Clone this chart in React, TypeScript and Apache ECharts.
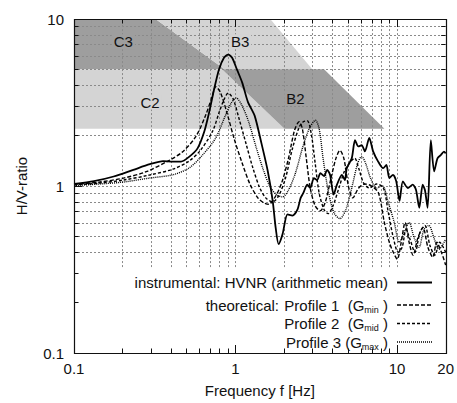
import React, { useEffect, useRef } from "react";
import * as echarts from "echarts";

const FONT = "'Liberation Sans', Arial, Helvetica, sans-serif";

// ---------- axes ----------
const F_MIN = 0.1;
const F_MAX = 20;
const HV_MIN = 0.1;
const HV_MAX = 10;
const xLabelValues = [0.1, 1, 10, 20];
const yLabelValues = [0.1, 1, 10];
const xMinorTicks = [0.2, 0.3, 0.4, 0.5, 0.6, 0.7, 0.8, 0.9, 2, 3, 4, 5, 6, 7, 8, 9];
const xMajorTicks = [1, 10];
const yMinorTicks = [0.2, 0.3, 0.4, 0.5, 0.6, 0.7, 0.8, 0.9, 2, 3, 4, 5, 6, 7, 8, 9];
const yMajorTicks = [1];
const vGridValues = [0.2, 0.3, 0.4, 0.5, 0.6, 0.7, 0.8, 0.9, 1, 2, 3, 4, 5, 6, 7, 8, 9, 10];
const hGridValues = [0.4, 0.5, 0.6, 0.7, 0.8, 0.9, 1, 2, 3, 4, 5, 6, 7, 8, 9];
const GRID_FLOOR_HV = 0.327; // vertical grid lines stop above the key box

// ---------- shaded classes ----------
const upperBandHV = [5, 10];
const lowerBandHV = [2.2, 5];
const c3EdgeFreq = [0.855, 0.32]; // at HV 5, 10
const b3EdgeFreq = [2.985, 1.64];
const c2EdgeFreq = [2.01, 0.825]; // at HV 2.2, 5
const b2EdgeFreq = [8.35, 3.535];
const bandLabels = ["C3", "B3", "C2", "B2"];
const bandLabelFreq = [0.202, 1.067, 0.296, 2.35];
const bandLabelHV = [7.31, 7.31, 3.18, 3.36];
const DARK = "#9e9e9e";
const LIGHT = "#d4d4d4";
const bandColors = [DARK, LIGHT, LIGHT, DARK];

// ---------- curves ----------
const hvnrFreq = [0.1, 0.133, 0.176, 0.233, 0.295, 0.356, 0.409, 0.46, 0.518, 0.582, 0.64, 0.687, 0.737, 0.79, 0.848, 0.901, 0.953, 1.02, 1.1, 1.194, 1.313, 1.44, 1.583, 1.699, 1.772, 1.848, 1.956, 2.098, 2.252, 2.416, 2.531, 2.63, 2.782, 2.902, 3.057, 3.203, 3.355, 3.535, 3.688, 3.847, 4.053, 4.246, 4.555, 4.752, 4.887, 5.244, 5.494, 5.763, 6.037, 6.325, 6.73, 7.121, 7.64, 8.199, 8.59, 8.961, 9.44, 9.888, 10.36, 10.87, 11.66, 12.51, 13.11, 13.73, 14.41, 14.88, 15.46, 16.19, 16.97, 17.8, 18.65, 19.53, 20];
const hvnrAmp = [1.03, 1.07, 1.14, 1.25, 1.35, 1.41, 1.4, 1.4, 1.5, 1.68, 2.11, 2.77, 3.8, 4.99, 5.86, 6.12, 5.86, 4.99, 4.16, 3.18, 2.64, 1.84, 1.23, 0.815, 0.564, 0.449, 0.515, 0.676, 0.665, 0.721, 0.849, 0.909, 1.018, 0.973, 1.115, 1.085, 1.194, 1.146, 1.249, 1.167, 0.888, 1.018, 1.167, 1.085, 1.278, 1.464, 1.879, 1.725, 1.755, 1.611, 1.942, 1.605, 1.4, 1.278, 1.336, 1.115, 1.167, 1.066, 0.815, 1.066, 0.973, 1.018, 0.947, 0.741, 1.018, 0.947, 0.741, 1.879, 1.222, 1.464, 1.531, 1.605, 1.568];

const profile1Freq = [0.1, 0.144, 0.202, 0.28, 0.392, 0.471, 0.566, 0.652, 0.719, 0.754, 0.805, 0.889, 0.98, 1.1, 1.228, 1.375, 1.496, 1.606, 1.747, 1.929, 2.128, 2.316, 2.475, 2.593, 2.743, 2.902, 3.113, 3.341, 3.585, 3.902, 4.186, 4.429, 4.685, 5.027, 5.318, 5.787, 6.298, 6.952, 7.673, 8.35, 8.961, 9.479, 10.03, 10.61, 11.22, 11.88, 12.57, 13.48, 14.47, 15.52, 16.66, 17.62, 18.91, 20];
const profile1Amp = [1.021, 1.056, 1.115, 1.218, 1.431, 1.605, 1.968, 2.642, 3.47, 3.93, 3.65, 2.7, 1.923, 1.368, 1.028, 0.849, 0.793, 0.777, 0.849, 1.042, 1.464, 2.145, 2.425, 2.204, 1.464, 0.973, 0.761, 0.711, 0.793, 1.115, 1.464, 1.633, 1.464, 0.973, 0.849, 0.973, 1.028, 1.0, 0.909, 0.604, 0.46, 0.401, 0.365, 0.46, 0.604, 0.46, 0.385, 0.492, 0.564, 0.43, 0.375, 0.46, 0.396, 0.336];

const profile2Freq = [0.1, 0.144, 0.202, 0.292, 0.409, 0.513, 0.599, 0.719, 0.794, 0.852, 0.901, 0.967, 1.052, 1.161, 1.282, 1.414, 1.539, 1.699, 1.848, 2.04, 2.252, 2.485, 2.63, 2.782, 2.943, 3.113, 3.294, 3.535, 3.74, 4.013, 4.367, 4.752, 5.171, 5.471, 5.787, 6.21, 6.759, 7.46, 8.233, 8.835, 9.479, 10.17, 10.76, 11.38, 12.04, 12.92, 13.87, 14.88, 15.97, 17.13, 18.39, 20];
const profile2Amp = [1.014, 1.042, 1.085, 1.162, 1.261, 1.406, 1.611, 2.116, 2.78, 3.317, 3.599, 3.317, 2.526, 1.796, 1.278, 0.973, 0.849, 0.804, 0.873, 1.115, 1.678, 2.265, 2.425, 2.458, 2.059, 1.368, 0.909, 0.721, 0.683, 0.761, 0.973, 1.244, 1.406, 1.464, 1.278, 1.042, 0.973, 1.028, 0.973, 0.692, 0.492, 0.401, 0.43, 0.549, 0.479, 0.401, 0.527, 0.58, 0.442, 0.385, 0.46, 0.401];

const profile3Freq = [0.1, 0.144, 0.202, 0.292, 0.409, 0.513, 0.599, 0.75, 0.864, 0.94, 1.01, 1.1, 1.211, 1.337, 1.475, 1.628, 1.797, 1.956, 2.128, 2.349, 2.593, 2.861, 3.126, 3.294, 3.485, 3.74, 4.07, 4.429, 4.819, 5.244, 5.707, 6.037, 6.387, 6.855, 7.46, 8.119, 8.835, 9.614, 10.32, 11.07, 11.88, 12.74, 13.67, 14.68, 15.74, 16.89, 18.13, 20];
const profile3Amp = [1.007, 1.028, 1.056, 1.115, 1.167, 1.278, 1.464, 1.923, 2.631, 3.141, 3.363, 3.015, 2.392, 1.725, 1.278, 1.0, 0.885, 0.861, 0.947, 1.194, 1.678, 2.204, 2.475, 2.204, 1.464, 0.947, 0.692, 0.638, 0.721, 0.973, 1.368, 1.504, 1.368, 1.115, 0.973, 1.0, 0.793, 0.604, 0.46, 0.527, 0.604, 0.492, 0.43, 0.549, 0.58, 0.492, 0.418, 0.479];

// ---------- key ----------
const keyHeads = ["instrumental: HVNR (arithmetic mean)", "theoretical:"];
const profileNames = ["Profile 1  (G", "Profile 2  (G", "Profile 3 (G"];
const profileSubs = ["min", "mid", "max"];

const zip = (a: number[], b: number[]) => a.map((v, i) => [v, b[i]]);

const DASH1 = [4, 2];
const DASH2 = [3, 2];
const DASH3 = [1, 1];

export default function App() {
  const ref = useRef<HTMLDivElement>(null);

  useEffect(() => {
    if (!ref.current) return;
    const chart = echarts.init(ref.current, null, { renderer: "svg" });

    const up = upperBandHV;
    const lo = lowerBandHV;
    const bandPolys = [
      [[F_MIN, up[1]], [c3EdgeFreq[1], up[1]], [c3EdgeFreq[0], up[0]], [F_MIN, up[0]]],
      [[c3EdgeFreq[1], up[1]], [b3EdgeFreq[1], up[1]], [b3EdgeFreq[0], up[0]], [c3EdgeFreq[0], up[0]]],
      [[F_MIN, lo[1]], [c2EdgeFreq[1], lo[1]], [c2EdgeFreq[0], lo[0]], [F_MIN, lo[0]]],
      [[c2EdgeFreq[1], lo[1]], [b2EdgeFreq[1], lo[1]], [b2EdgeFreq[0], lo[0]], [c2EdgeFreq[0], lo[0]]],
    ];
    const bandData = bandLabels.map((_, i) => [bandLabelFreq[i], bandLabelHV[i], i]);

    const gridData = [
      ...vGridValues.map((v) => [v, 1, 0]),
      ...hGridValues.map((v) => [1, v, 1]),
    ];
    const tickData = [
      ...xMinorTicks.map((v) => [v, 1, 0, 0]),
      ...xMajorTicks.map((v) => [v, 1, 0, 1]),
      ...yMinorTicks.map((v) => [1, v, 1, 0]),
      ...yMajorTicks.map((v) => [1, v, 1, 1]),
      [1, 1, 2, 0],
    ];
    const snap = (v: number) => Math.round(v - 0.5) + 0.5;

    const fmt = (v: number) => String(Math.round(v * 1000) / 1000);
    const txt = (extra: any) => ({
      fontSize: 15,
      fontFamily: FONT,
      fill: "#111",
      ...extra,
    });

    const keyLineX1 = 397;
    const keyLineX2 = 432;
    const keyTextRight = 388;
    const rowY = [282.5, 305, 323.5, 342];
    const dashes = [null, DASH1, DASH2, DASH3];

    const graphic: any[] = [];
    graphic.push({
      type: "text",
      x: keyTextRight,
      y: rowY[0],
      z: 20,
      style: txt({ text: keyHeads[0], align: "right", verticalAlign: "middle", textAlign: "right", textVerticalAlign: "middle" }),
    });
    graphic.push({
      type: "text",
      x: 279,
      y: rowY[1],
      z: 20,
      style: txt({ text: keyHeads[1], align: "right", verticalAlign: "middle", textAlign: "right", textVerticalAlign: "middle" }),
    });
    profileNames.forEach((nm, i) => {
      graphic.push({
        type: "text",
        x: keyTextRight,
        y: rowY[i + 1],
        z: 20,
        style: txt({
          text: `{n|${nm}}{s|${profileSubs[i]}}{n| )}`,
          align: "right",
          verticalAlign: "middle",
          textAlign: "right",
          textVerticalAlign: "middle",
          rich: {
            n: { fontSize: 15, fontFamily: FONT, fill: "#111", lineHeight: 18, verticalAlign: "middle" },
            s: { fontSize: 9, fontFamily: FONT, fill: "#111", lineHeight: 12, verticalAlign: "bottom" },
          },
        }),
      });
    });
    rowY.forEach((y, i) => {
      graphic.push({
        type: "line",
        z: 20,
        shape: { x1: keyLineX1, y1: y, x2: keyLineX2, y2: y },
        style: {
          stroke: "#000",
          lineWidth: i === 0 ? 1.8 : 1.4,
          lineDash: dashes[i] || undefined,
        },
      });
    });

    const option: any = {
      animation: false,
      grid: { left: 74, top: 19, right: 7, bottom: 46, show: false },
      xAxis: {
        type: "log",
        logBase: 10,
        min: F_MIN,
        max: F_MAX,
        axisLine: { show: false },
        axisTick: { show: false },
        splitLine: { show: false },
        axisLabel: {
          customValues: xLabelValues,
          formatter: fmt,
          margin: 8,
          fontSize: 15,
          fontFamily: FONT,
          color: "#111",
          hideOverlap: false,
        },
        name: "Frequency f [Hz]",
        nameLocation: "middle",
        nameGap: 30,
        nameTextStyle: { fontSize: 15, fontFamily: FONT, color: "#111" },
      },
      yAxis: {
        type: "log",
        logBase: 10,
        min: HV_MIN,
        max: HV_MAX,
        axisLine: { show: false },
        axisTick: { show: false },
        splitLine: { show: false },
        axisLabel: {
          customValues: yLabelValues,
          formatter: fmt,
          margin: 10,
          fontSize: 15,
          fontFamily: FONT,
          color: "#111",
        },
        name: "H/V-ratio",
        nameLocation: "middle",
        nameGap: 45,
        nameRotate: 90,
        nameTextStyle: { fontSize: 15, fontFamily: FONT, color: "#111" },
      },
      graphic,
      series: [
        {
          type: "custom",
          name: "bands",
          silent: true,
          z: 1,
          encode: { x: 0, y: 1 },
          data: bandData,
          renderItem: (_p: any, api: any) => {
            const idx = api.value(2);
            const pts = bandPolys[idx].map((p) => api.coord(p));
            return { type: "polygon", shape: { points: pts }, style: { fill: bandColors[idx] } };
          },
        },
        {
          type: "custom",
          name: "grid",
          silent: true,
          z: 2,
          encode: { x: 0, y: 1 },
          data: gridData,
          renderItem: (_p: any, api: any) => {
            const kind = api.value(2);
            let p1, p2;
            if (kind === 0) {
              const v = api.value(0);
              p1 = api.coord([v, GRID_FLOOR_HV]);
              p2 = api.coord([v, HV_MAX]);
              p1[0] = p2[0] = snap(p1[0]);
            } else {
              const v = api.value(1);
              p1 = api.coord([F_MIN, v]);
              p2 = api.coord([F_MAX, v]);
              p1[1] = p2[1] = snap(p1[1]);
            }
            return {
              type: "line",
              shape: { x1: p1[0], y1: p1[1], x2: p2[0], y2: p2[1] },
              style: { stroke: "#8a8a8a", lineWidth: 1, lineDash: [2, 2] },
            };
          },
        },
        {
          type: "custom",
          name: "bandLabels",
          silent: true,
          z: 3,
          encode: { x: 0, y: 1 },
          data: bandData,
          renderItem: (_p: any, api: any) => {
            const idx = api.value(2);
            const p = api.coord([api.value(0), api.value(1)]);
            return {
              type: "text",
              x: p[0],
              y: p[1],
              style: {
                text: bandLabels[idx],
                fontSize: 15,
                fontFamily: FONT,
                fill: "#111",
                align: "center",
                verticalAlign: "middle",
                textAlign: "center",
                textVerticalAlign: "middle",
                backgroundColor: bandColors[idx],
                padding: [0, 2],
              },
            };
          },
        },
        {
          type: "line",
          name: "instrumental: HVNR (arithmetic mean)",
          data: zip(hvnrFreq, hvnrAmp),
          showSymbol: false,
          symbol: "none",
          smooth: 0.25,
          z: 5,
          silent: true,
          lineStyle: { color: "#000", width: 1.8 },
        },
        {
          type: "line",
          name: "Profile 1",
          data: zip(profile1Freq, profile1Amp),
          showSymbol: false,
          symbol: "none",
          smooth: 0.3,
          z: 4,
          silent: true,
          lineStyle: { color: "#000", width: 1.4, type: DASH1 },
        },
        {
          type: "line",
          name: "Profile 2",
          data: zip(profile2Freq, profile2Amp),
          showSymbol: false,
          symbol: "none",
          smooth: 0.3,
          z: 4,
          silent: true,
          lineStyle: { color: "#000", width: 1.4, type: DASH2 },
        },
        {
          type: "line",
          name: "Profile 3",
          data: zip(profile3Freq, profile3Amp),
          showSymbol: false,
          symbol: "none",
          smooth: 0.3,
          z: 4,
          silent: true,
          lineStyle: { color: "#000", width: 1.4, type: DASH3 },
        },
        {
          type: "custom",
          name: "frame",
          silent: true,
          z: 10,
          encode: { x: 0, y: 1 },
          data: tickData,
          renderItem: (_p: any, api: any) => {
            const kind = api.value(2);
            const major = api.value(3) === 1;
            const len = major ? 8 : 4.5;
            const st = { stroke: "#111", lineWidth: 1 };
            if (kind === 2) {
              const a = api.coord([F_MIN, HV_MAX]);
              const b = api.coord([F_MAX, HV_MIN]);
              return {
                type: "rect",
                shape: { x: snap(a[0]), y: snap(a[1]), width: Math.round(b[0] - a[0]), height: Math.round(b[1] - a[1]) },
                style: { stroke: "#111", lineWidth: 1.2, fill: "none" },
              };
            }
            if (kind === 0) {
              const v = api.value(0);
              const b = api.coord([v, HV_MIN]);
              const t = api.coord([v, HV_MAX]);
              const x = snap(b[0]);
              return {
                type: "group",
                children: [
                  { type: "line", shape: { x1: x, y1: b[1], x2: x, y2: b[1] - len }, style: st },
                  { type: "line", shape: { x1: x, y1: t[1], x2: x, y2: t[1] + len }, style: st },
                ],
              };
            }
            const v = api.value(1);
            const l = api.coord([F_MIN, v]);
            const r = api.coord([F_MAX, v]);
            const y = snap(l[1]);
            return {
              type: "group",
              children: [
                { type: "line", shape: { x1: l[0], y1: y, x2: l[0] + len, y2: y }, style: st },
                { type: "line", shape: { x1: r[0], y1: y, x2: r[0] - len, y2: y }, style: st },
              ],
            };
          },
        },
      ],
    };

    chart.setOption(option);
    return () => chart.dispose();
  }, []);

  return (
    <div
      ref={ref}
      style={{ position: "fixed", left: 0, top: 0, width: 457, height: 403, background: "#fff" }}
    />
  );
}
